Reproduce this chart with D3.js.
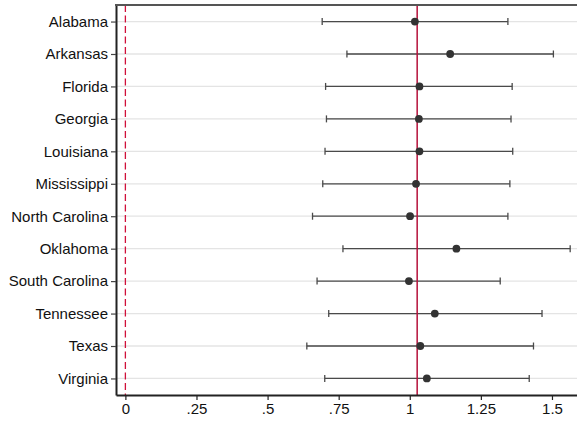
<!DOCTYPE html>
<html>
<head>
<meta charset="utf-8">
<script src="https://cdn.jsdelivr.net/npm/d3@7"></script>
<style>
  html, body { margin: 0; padding: 0; background: #fff; }
  svg { display: block; font-family: "Liberation Sans", Arial, sans-serif; }
</style>
</head>
<body>
<svg id="chart" width="577" height="424"></svg>
<script>
// State estimates with 95% confidence intervals
const states = ["Alabama", "Arkansas", "Florida", "Georgia", "Louisiana", "Mississippi",
  "North Carolina", "Oklahoma", "South Carolina", "Tennessee", "Texas", "Virginia"];
const estimates = [1.018, 1.142, 1.034, 1.032, 1.034, 1.022, 1.001, 1.164, 0.997, 1.088, 1.037, 1.060];
const lower = [0.692, 0.779, 0.704, 0.707, 0.702, 0.694, 0.658, 0.765, 0.674, 0.715, 0.638, 0.701];
const upper = [1.345, 1.505, 1.360, 1.356, 1.362, 1.352, 1.345, 1.564, 1.318, 1.465, 1.435, 1.420];
const xTicks = [0, 0.25, 0.5, 0.75, 1, 1.25, 1.5];
const xTickLabels = ["0", ".25", ".5", ".75", "1", "1.25", "1.5"];
const nullValue = 0;
const pooledValue = 1.026;

const rows = states.map((s, i) => ({ state: s, est: estimates[i], lo: lower[i], hi: upper[i] }));

const svg = d3.select("#chart");
const margin = { top: 5, right: 0, bottom: 29, left: 116 };
const W = 577, H = 424;
const fontSize = 15;

const x = d3.scaleLinear().domain([-0.033, 1.588]).range([margin.left, W - margin.right]);
const y = d3.scalePoint().domain(states).range([margin.top, H - margin.bottom]).padding(0.51);

// horizontal grid lines
svg.append("g").selectAll("line").data(states).join("line")
  .attr("x1", margin.left).attr("x2", W)
  .attr("y1", d => y(d)).attr("y2", d => y(d))
  .attr("stroke", "#e4e4e4").attr("stroke-width", 1.3);

// reference line at zero
svg.append("line")
  .attr("x1", x(nullValue)).attr("x2", x(nullValue))
  .attr("y1", margin.top).attr("y2", H - margin.bottom)
  .attr("stroke", "#d0103a").attr("stroke-width", 1.3)
  .attr("stroke-dasharray", "7,3.5");

// confidence intervals
const ci = svg.append("g").selectAll("g").data(rows).join("g");
ci.append("line")
  .attr("x1", d => x(d.lo)).attr("x2", d => x(d.hi))
  .attr("y1", d => y(d.state)).attr("y2", d => y(d.state))
  .attr("stroke", "#4a4a4a").attr("stroke-width", 1.3);
ci.append("line")
  .attr("x1", d => x(d.lo)).attr("x2", d => x(d.lo))
  .attr("y1", d => y(d.state) - 3.5).attr("y2", d => y(d.state) + 3.5)
  .attr("stroke", "#4a4a4a").attr("stroke-width", 1.3);
ci.append("line")
  .attr("x1", d => x(d.hi)).attr("x2", d => x(d.hi))
  .attr("y1", d => y(d.state) - 3.5).attr("y2", d => y(d.state) + 3.5)
  .attr("stroke", "#4a4a4a").attr("stroke-width", 1.3);

// pooled estimate line
svg.append("line")
  .attr("x1", x(pooledValue)).attr("x2", x(pooledValue))
  .attr("y1", margin.top).attr("y2", H - margin.bottom)
  .attr("stroke", "#b5103a").attr("stroke-width", 1.5);

// point estimates
svg.append("g").selectAll("circle").data(rows).join("circle")
  .attr("cx", d => x(d.est)).attr("cy", d => y(d.state))
  .attr("r", 3.9).attr("fill", "#333333");

// axes
const xAxis = d3.axisBottom(x).tickValues(xTicks)
  .tickFormat((d, i) => xTickLabels[i]).tickSize(5).tickSizeOuter(0).tickPadding(3);
const gx = svg.append("g").attr("transform", `translate(0,${H - margin.bottom})`).call(xAxis);
gx.select(".domain").attr("stroke", "#222").attr("stroke-width", 2);
gx.selectAll(".tick line").attr("stroke", "#222").attr("stroke-width", 1.2);
gx.selectAll(".tick text").attr("font-size", fontSize).attr("fill", "#111")
  .attr("font-family", "Liberation Sans, Arial, sans-serif");

const yAxis = d3.axisLeft(y).tickSize(5).tickSizeOuter(0).tickPadding(3);
const gy = svg.append("g").attr("transform", `translate(${margin.left},0)`).call(yAxis);
gy.select(".domain").attr("stroke", "#222").attr("stroke-width", 2);
gy.selectAll(".tick line").attr("stroke", "#444").attr("stroke-width", 1.2);
gy.selectAll(".tick text").attr("font-size", fontSize).attr("fill", "#111")
  .attr("font-family", "Liberation Sans, Arial, sans-serif");

// top frame line
svg.append("line")
  .attr("x1", margin.left - 1).attr("x2", W)
  .attr("y1", margin.top).attr("y2", margin.top)
  .attr("stroke", "#555").attr("stroke-width", 1.8);
</script>
</body>
</html>
